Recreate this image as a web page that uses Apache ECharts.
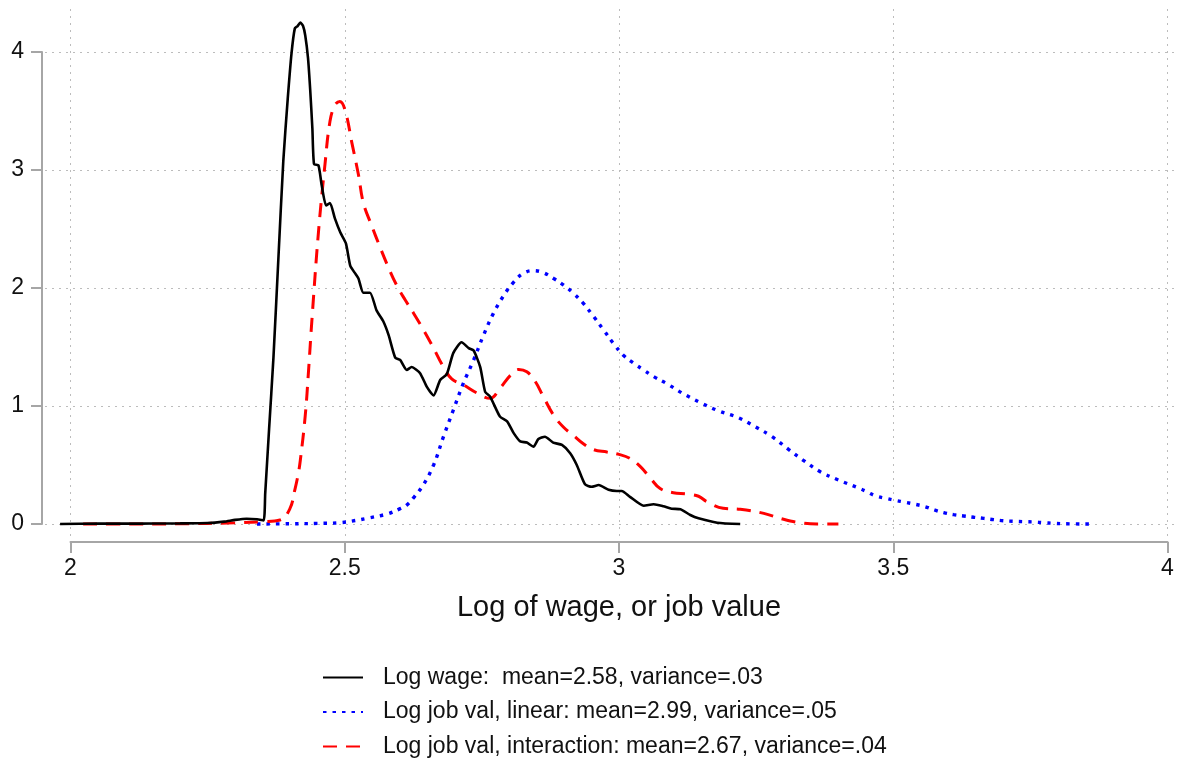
<!DOCTYPE html>
<html>
<head>
<meta charset="utf-8">
<script src="https://cdn.jsdelivr.net/npm/echarts@6/dist/echarts.min.js"></script>
<style>
html,body{margin:0;padding:0;background:#fff;}
#chart{width:1181px;height:759px;}
</style>
</head>
<body>
<div id="chart"></div>
<script>
// ---- data ----
const seriesNames = [
  'Log wage:  mean=2.58, variance=.03',
  'Log job val, linear: mean=2.99, variance=.05',
  'Log job val, interaction: mean=2.67, variance=.04'
];
const xAxisTitle = 'Log of wage, or job value';

const wageX = [1.981,2.05,2.10,2.15,2.20,2.25,2.28,2.30,2.321,2.34,2.352,2.355,2.362,2.37,2.379,2.388,2.396,2.403,2.409,2.414,2.419,2.424,2.428,2.433,2.437,2.441,2.444,2.452,2.458,2.466,2.473,2.482,2.492,2.502,2.51,2.518,2.525,2.534,2.546,2.558,2.57,2.58,2.592,2.601,2.613,2.622,2.637,2.65,2.662,2.674,2.686,2.698,2.713,2.726,2.735,2.747,2.756,2.765,2.783,2.796,2.808,2.82,2.832,2.844,2.853,2.865,2.88,2.896,2.911,2.923,2.938,2.95,2.963,2.981,2.996,3.005,3.02,3.045,3.063,3.081,3.096,3.112,3.13,3.145,3.179,3.221];
const wageY = [0,0.003,0.003,0.004,0.005,0.008,0.02,0.035,0.045,0.04,0.03,0.26,0.8,1.41,2.25,3.08,3.6,3.99,4.2,4.22,4.25,4.22,4.14,3.95,3.68,3.35,3.05,3.04,2.87,2.70,2.72,2.59,2.47,2.38,2.19,2.13,2.08,1.96,1.96,1.81,1.72,1.60,1.41,1.39,1.305,1.33,1.28,1.16,1.09,1.22,1.27,1.45,1.54,1.49,1.47,1.33,1.12,1.08,0.91,0.87,0.77,0.70,0.69,0.655,0.72,0.74,0.69,0.67,0.60,0.50,0.336,0.316,0.33,0.29,0.28,0.28,0.23,0.155,0.167,0.15,0.13,0.125,0.076,0.048,0.011,0];

const linX = [2.34,2.40,2.45,2.491,2.52,2.54,2.577,2.601,2.613,2.625,2.643,2.662,2.68,2.698,2.716,2.735,2.753,2.771,2.789,2.808,2.826,2.844,2.862,2.881,2.899,2.917,2.935,2.954,2.972,2.99,3.008,3.026,3.045,3.063,3.087,3.115,3.148,3.181,3.218,3.248,3.279,3.309,3.336,3.367,3.40,3.434,3.452,3.467,3.486,3.504,3.522,3.54,3.558,3.575,3.592,3.61,3.628,3.647,3.665,3.683,3.701,3.72,3.738,3.756,3.774,3.792,3.81,3.865];
const linY = [0,0.002,0.005,0.011,0.03,0.048,0.085,0.13,0.16,0.22,0.33,0.50,0.74,0.966,1.19,1.39,1.60,1.785,1.93,2.05,2.125,2.147,2.13,2.08,2.025,1.955,1.87,1.757,1.644,1.53,1.43,1.365,1.305,1.25,1.19,1.11,1.03,0.96,0.90,0.825,0.74,0.633,0.54,0.443,0.373,0.31,0.274,0.24,0.218,0.20,0.184,0.167,0.147,0.119,0.096,0.079,0.068,0.057,0.048,0.037,0.028,0.023,0.02,0.017,0.011,0.006,0.002,0];

const intX = [2.023,2.10,2.20,2.30,2.35,2.382,2.40,2.409,2.415,2.419,2.428,2.434,2.44,2.452,2.464,2.473,2.482,2.491,2.501,2.513,2.525,2.534,2.549,2.564,2.58,2.595,2.61,2.625,2.643,2.662,2.68,2.695,2.716,2.741,2.765,2.783,2.802,2.817,2.832,2.847,2.862,2.881,2.899,2.917,2.935,2.954,2.978,3.0,3.02,3.039,3.057,3.075,3.099,3.124,3.145,3.16,3.19,3.221,3.264,3.30,3.33,3.361,3.40];
const intY = [0,0,0.002,0.01,0.02,0.034,0.13,0.29,0.42,0.54,0.92,1.3,1.72,2.47,3.05,3.41,3.55,3.58,3.50,3.23,2.96,2.72,2.53,2.35,2.17,2.02,1.90,1.79,1.65,1.49,1.33,1.23,1.18,1.11,1.065,1.15,1.26,1.31,1.29,1.21,1.08,0.92,0.82,0.75,0.68,0.63,0.61,0.59,0.556,0.486,0.39,0.30,0.265,0.255,0.235,0.19,0.133,0.125,0.09,0.04,0.011,0,0];

function pairs(xs, ys){ return xs.map((x,i)=>[x, ys[i]]); }

// ---- layout ----
const FONT = '"Liberation Sans", Arial, Helvetica, sans-serif';
const GRID_LEFT = 45, GRID_RIGHT_EDGE = 1175, GRID_TOP = 9, GRID_BOTTOM_EDGE = 537;
const X0PX = 70.5, X4PX = 1167.5;   // pixel positions of x=2 and x=4
const Y0PX = 524, Y4PX = 52;        // pixel positions of y=0 and y=4
const xppu = (X4PX - X0PX) / 2, yppu = (Y0PX - Y4PX) / 4;
const dataXMin = 2 - (X0PX - GRID_LEFT) / xppu;
const dataXMax = 4 + (GRID_RIGHT_EDGE - X4PX) / xppu;
const dataYMax = 4 + (Y4PX - GRID_TOP) / yppu;
const dataYMin = -(GRID_BOTTOM_EDGE - Y0PX) / yppu;

const gridLineStyle = { color: '#bcbcbc', width: 1, type: [2, 5] };
const axisGray = '#a6a6a6';

const chart = echarts.init(document.getElementById('chart'), null, { renderer: 'canvas' });
chart.setOption({
  animation: false,
  backgroundColor: '#ffffff',
  textStyle: { fontFamily: FONT },
  grid: [
    { left: GRID_LEFT, top: GRID_TOP, width: GRID_RIGHT_EDGE - GRID_LEFT, height: GRID_BOTTOM_EDGE - GRID_TOP },
    { left: X0PX, top: GRID_TOP, width: X4PX - X0PX, height: GRID_BOTTOM_EDGE - GRID_TOP },
    { left: GRID_LEFT, top: Y4PX, width: GRID_RIGHT_EDGE - GRID_LEFT, height: Y0PX - Y4PX }
  ],
  xAxis: [
    { gridIndex: 0, type: 'value', min: dataXMin, max: dataXMax, show: false },
    { gridIndex: 1, type: 'value', min: 2, max: 4, interval: 0.5, offset: 5,
      axisLine: { show: true, onZero: false, lineStyle: { color: axisGray, width: 2 } },
      axisTick: { show: true, inside: false, length: 11, lineStyle: { color: axisGray, width: 2 } },
      axisLabel: { show: true, margin: 15, fontSize: 23, color: '#111', fontFamily: FONT,
        formatter: v => String(v) },
      splitLine: { show: true, lineStyle: gridLineStyle },
      name: xAxisTitle, nameLocation: 'middle', nameGap: 51,
      nameTextStyle: { fontSize: 29, color: '#111', fontFamily: FONT }
    },
    { gridIndex: 2, type: 'value', min: 0, max: 1, show: false }
  ],
  yAxis: [
    { gridIndex: 0, type: 'value', min: dataYMin, max: dataYMax, show: false },
    { gridIndex: 1, type: 'value', min: 0, max: 1, show: false },
    { gridIndex: 2, type: 'value', min: 0, max: 4, interval: 1, offset: 3,
      axisLine: { show: true, onZero: false, lineStyle: { color: axisGray, width: 2 } },
      axisTick: { show: true, inside: false, length: 11, lineStyle: { color: axisGray, width: 2 } },
      axisLabel: { show: true, margin: 18, fontSize: 23, color: '#111', fontFamily: FONT },
      splitLine: { show: true, lineStyle: gridLineStyle }
    }
  ],
  legend: {
    orient: 'vertical', left: 322, top: 666, height: 93, padding: 0,
    itemWidth: 40, itemHeight: 14, itemGap: 11.5,
    itemStyle: { opacity: 0 },
    textStyle: { fontSize: 23, color: '#111', fontFamily: FONT, lineHeight: 23, padding: [0, 0, 0, 15] },
    data: seriesNames
  },
  series: [
    { name: seriesNames[0], type: 'line', xAxisIndex: 0, yAxisIndex: 0, data: pairs(wageX, wageY),
      symbol: 'none', smooth: 0.2, lineStyle: { color: '#000000', width: 2.6, type: 'solid' }, itemStyle: { color: '#000000' }, z: 4 },
    { name: seriesNames[1], type: 'line', xAxisIndex: 0, yAxisIndex: 0, data: pairs(linX, linY),
      symbol: 'none', smooth: 0.4, lineStyle: { color: '#0000ff', width: 3.4, type: [3.5, 6] }, itemStyle: { color: '#0000ff' }, z: 3 },
    { name: seriesNames[2], type: 'line', xAxisIndex: 0, yAxisIndex: 0, data: pairs(intX, intY),
      symbol: 'none', smooth: 0.4, lineStyle: { color: '#ff0000', width: 3, type: [14, 9] }, itemStyle: { color: '#ff0000' }, z: 3 }
  ]
});
</script>
</body>
</html>
